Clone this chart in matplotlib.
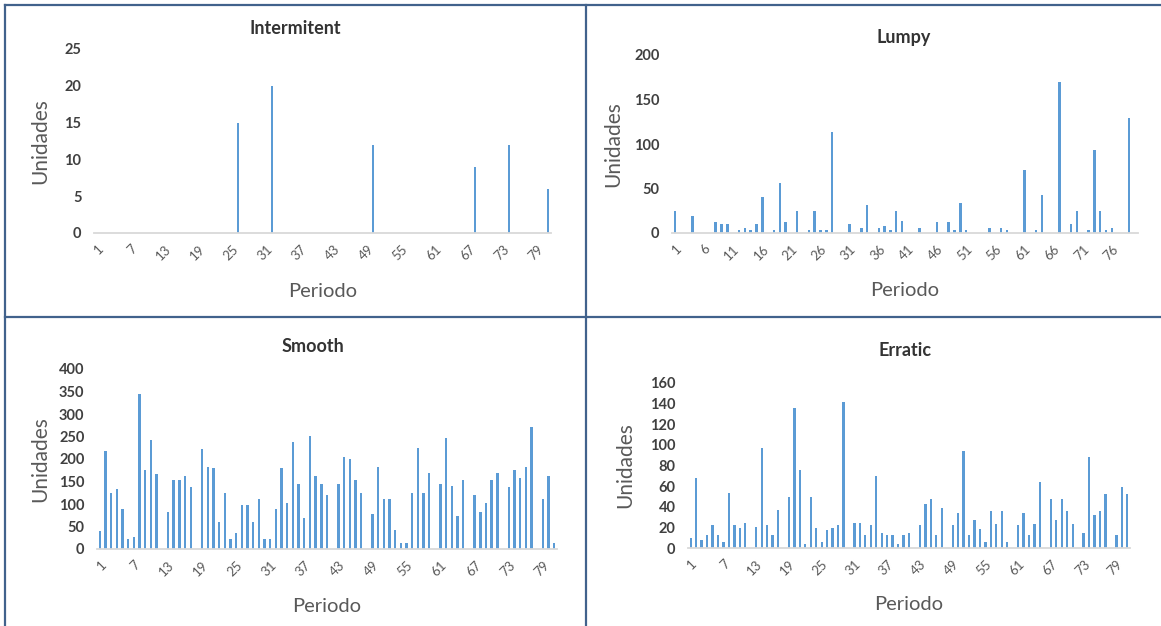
import matplotlib
matplotlib.use("Agg")
import matplotlib.pyplot as plt
from matplotlib.lines import Line2D
import numpy as np

plt.rcParams['font.family'] = ['Lato', 'DejaVu Sans']

# demand per period
intermitent = [0, 0, 0, 0, 0, 0, 0, 0, 0, 0, 0, 0, 0, 0, 0, 0, 0, 0, 0, 0,
               0, 0, 0, 0, 0, 15, 0, 0, 0, 0, 0, 20, 0, 0, 0, 0, 0, 0, 0, 0,
               0, 0, 0, 0, 0, 0, 0, 0, 0, 12, 0, 0, 0, 0, 0, 0, 0, 0, 0, 0,
               0, 0, 0, 0, 0, 0, 0, 9, 0, 0, 0, 0, 0, 12, 0, 0, 0, 0, 0, 0,
               6]
lumpy = [25, 0, 0, 19, 0, 0, 0, 12, 10, 10, 0, 3, 6, 3, 10, 40, 0, 3, 56, 12,
         0, 25, 0, 3, 25, 3, 3, 114, 0, 0, 10, 0, 6, 32, 0, 6, 8, 3, 25, 14,
         0, 0, 6, 0, 0, 12, 0, 12, 3, 34, 3, 0, 0, 0, 6, 0, 6, 3, 0, 0,
         71, 0, 3, 43, 0, 0, 170, 0, 10, 25, 0, 3, 93, 25, 3, 6, 0, 0, 129, 0]
smooth = [40, 218, 124, 133, 90, 22, 27, 345, 175, 243, 166, 0, 82, 154, 154, 162, 137, 0, 222, 183,
          179, 60, 124, 22, 35, 98, 98, 60, 111, 22, 22, 90, 179, 103, 238, 145, 69, 251, 162, 145,
          119, 0, 145, 204, 200, 154, 124, 0, 77, 182, 111, 111, 43, 14, 14, 124, 225, 124, 170, 0,
          145, 246, 140, 74, 154, 0, 119, 82, 102, 154, 170, 0, 137, 175, 158, 183, 272, 0, 111, 162,
          14]
erratic = [10, 68, 8, 13, 22, 13, 6, 53, 22, 19, 24, 0, 20, 97, 22, 13, 37, 0, 49, 136,
           76, 4, 49, 19, 6, 17, 19, 22, 142, 0, 24, 24, 13, 22, 70, 15, 13, 13, 4, 13,
           15, 0, 22, 43, 48, 13, 39, 0, 22, 34, 94, 13, 27, 18, 6, 36, 23, 36, 6, 0,
           22, 34, 13, 23, 64, 0, 48, 27, 48, 36, 23, 0, 15, 88, 32, 36, 52, 0, 13, 59,
           52]

W, H = 1161, 626
fig = plt.figure(figsize=(W / 100, H / 100), dpi=100)

BAR = '#5B9BD5'
TXT = '#404040'


def panel(vals, title, ymax, ystep, lab_step, box, title_xy):
    x0, x1, ytop, ybot = box
    ax = fig.add_axes([x0 / W, 1 - ybot / H, (x1 - x0) / W, (ybot - ytop) / H])
    periods = np.arange(1, len(vals) + 1)
    ax.bar(periods, vals, width=0.42, color=BAR)
    ax.set_xlim(0.5, len(vals) + 0.5)
    ax.set_ylim(0, ymax)
    ax.set_yticks(np.arange(0, ymax + 1, ystep))
    ax.set_xticks(periods[::lab_step])
    ax.set_xticklabels([str(p) for p in periods[::lab_step]], rotation=45,
                       ha='right', rotation_mode='anchor', fontsize=9.5, color='#595959')
    for t in ax.get_yticklabels():
        t.set_fontsize(10.5)
        t.set_fontweight('bold')
        t.set_color(TXT)
    ax.tick_params(axis='both', length=0)
    ax.tick_params(axis='y', pad=9)
    ax.tick_params(axis='x', pad=7)
    for s in ['top', 'right', 'left']:
        ax.spines[s].set_visible(False)
    ax.spines['bottom'].set_color('#D9D9D9')
    ax.spines['bottom'].set_linewidth(1.3)
    ax.set_ylabel('Unidades', fontsize=15, color='#595959')
    ax.set_xlabel('Periodo', fontsize=14.5, color='#595959')
    # label positions given as text centres in pixels
    ax.yaxis.set_label_coords((title_xy[2] + 10 - x0) / (x1 - x0), 0.5)
    ax.xaxis.set_label_coords(0.5, -(title_xy[3] - 10 - ybot) / (ybot - ytop))
    fig.text(title_xy[0] / W, 1 - title_xy[1] / H, title, ha='center', va='center',
             fontsize=13, fontweight='bold', color='#333333')
    return ax


panel(intermitent, 'Intermitent', 25, 5, 6, (94, 551, 49, 233), (295, 28, 40, 293))
panel(lumpy, 'Lumpy', 200, 50, 5, (672, 1138, 55, 233), (904, 38, 613, 292))
panel(smooth, 'Smooth', 400, 50, 6, (97, 557, 369, 549), (313, 346, 40, 608))
panel(erratic, 'Erratic', 160, 20, 6, (688, 1130, 383, 548), (905, 350, 625, 606))

# panel frames
frame = '#41628C'
for xs, ys in [((5, W), (5, 5)), ((5, W), (317, 317)), ((5, 5), (5, H)), ((586, 586), (5, H))]:
    fig.add_artist(Line2D([x / W for x in xs], [1 - y / H for y in ys],
                          color=frame, linewidth=1.6, transform=fig.transFigure))

fig.savefig('out.png', dpi=100)
